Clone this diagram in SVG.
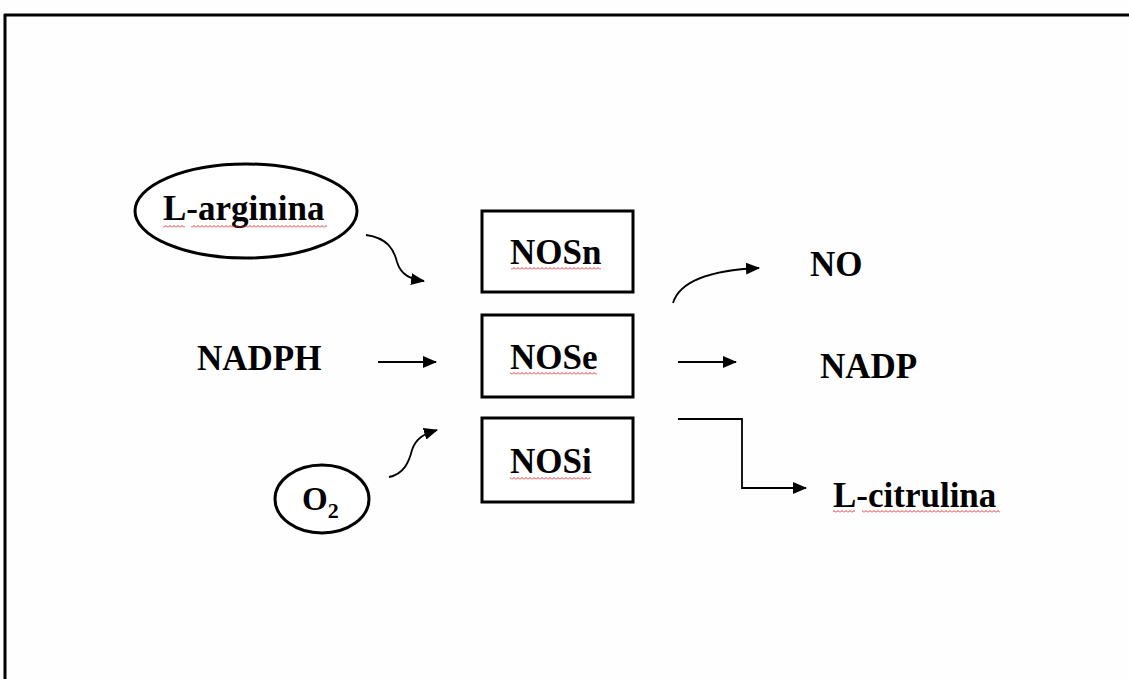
<svg xmlns="http://www.w3.org/2000/svg" width="1129" height="679" viewBox="0 0 1129 679">
<defs>
<style>
.t{font-family:"Liberation Serif","Times New Roman",serif;font-weight:bold;font-size:35px;fill:#000}
.box{fill:#fff;stroke:#000;stroke-width:3}
.ell{fill:#fff;stroke:#000;stroke-width:3}
.c{fill:none;stroke:#000;stroke-width:1.8}
.sq{fill:url(#zig)}
</style>
<marker id="ah" markerUnits="userSpaceOnUse" markerWidth="14" markerHeight="12" refX="13" refY="6" orient="auto">
<path d="M0,0 L14,6 L0,12 Z" fill="#000"/>
</marker>
<pattern id="zig" patternUnits="userSpaceOnUse" width="4" height="3">
<path d="M0,2.5 L2,0.5 L4,2.5" fill="none" stroke="#e02020" stroke-width="0.9"/>
</pattern>
</defs>
<rect x="0" y="0" width="1129" height="679" fill="#fefefe"/>
<g id="frame">
<line x1="4" y1="15" x2="1129" y2="15" stroke="#000" stroke-width="3"/>
<line x1="5" y1="14" x2="5" y2="679" stroke="#000" stroke-width="3"/>
</g>
<g id="connectors">
<path class="c" d="M366,235 C388,238 394,250 397,262 C401,275 410,279 424,281" marker-end="url(#ah)"/>
<line class="c" x1="378" y1="362" x2="436" y2="362" marker-end="url(#ah)"/>
<path class="c" d="M389,477 C404,474 409,462 412,450 C416,438 424,434 437,430" marker-end="url(#ah)"/>
<path class="c" d="M673,303 C680,280 715,270 759,268" marker-end="url(#ah)"/>
<line class="c" x1="678" y1="362" x2="736" y2="362" marker-end="url(#ah)"/>
<path class="c" d="M678,419 L742,419 L742,488 L806,488" marker-end="url(#ah)"/>
</g>
<g id="larginina">
<ellipse class="ell" cx="246" cy="211" rx="111" ry="47"/>
<text class="t" x="163" y="220">L-arginina</text>
<rect class="sq" x="163" y="225" width="22" height="3"/>
<rect class="sq" x="191" y="225" width="136" height="3"/>
</g>
<g id="nadph">
<text class="t" x="197" y="370">NADPH</text>
</g>
<g id="o2">
<ellipse class="ell" cx="322" cy="499" rx="47" ry="34"/>
<text class="t" x="302" y="510" style="font-size:33px">O<tspan dy="8" style="font-size:22px">2</tspan></text>
</g>
<g id="nosn">
<rect class="box" x="482" y="211" width="151" height="81"/>
<text class="t" x="510" y="264">NOSn</text>
<rect class="sq" x="511" y="267" width="90" height="3"/>
</g>
<g id="nose">
<rect class="box" x="482" y="315" width="151" height="82"/>
<text class="t" x="510" y="369">NOSe</text>
<rect class="sq" x="510" y="372" width="87" height="3"/>
</g>
<g id="nosi">
<rect class="box" x="482" y="418" width="151" height="84"/>
<text class="t" x="510" y="473">NOSi</text>
<rect class="sq" x="510" y="477" width="80" height="3"/>
</g>
<g id="no">
<text class="t" x="810" y="276">NO</text>
</g>
<g id="nadp">
<text class="t" x="820" y="378">NADP</text>
</g>
<g id="lcitrulina">
<text class="t" x="833" y="507">L-citrulina</text>
<rect class="sq" x="833" y="510" width="22" height="3"/>
<rect class="sq" x="862" y="510" width="138" height="3"/>
</g>
</svg>
